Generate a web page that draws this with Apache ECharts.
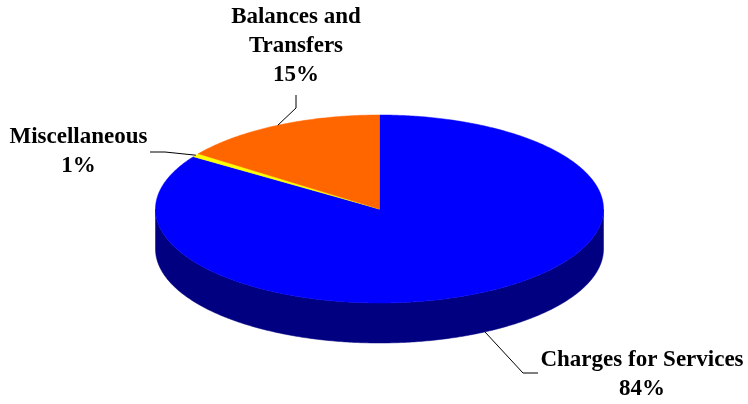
<!DOCTYPE html>
<html><head><meta charset="utf-8">
<script src="https://cdn.jsdelivr.net/npm/echarts@6/dist/echarts.min.js"></script>
<style>html,body{margin:0;padding:0;background:#fff}#c{width:748px;height:404px}</style>
</head><body><div id="c"></div>
<script>
const categories = ['Charges for Services', 'Miscellaneous', 'Balances and Transfers'];
const labelNames = ['Charges for Services', 'Miscellaneous', 'Balances and\nTransfers'];
const values = [84.4, 0.6, 15.0];

const colors = ['#0000FF', '#FFFF00', '#FF6600'];
const sideColors = ['#000080', '#808000', '#803300'];
const geo = { cx: 379.5, cy: 209, rx: 224, ry: 94, depth: 40 };
const labelLayout = [
  { x: 642, y: 374.5, elbow: [523, 373], end: [538, 373] },
  { x: 78.5, y: 151.5, elbow: [165, 152], end: [150, 152] },
  { x: 296, y: 46.5, elbow: [296, 108], end: [296, 95] }
];

const total = values.reduce((a, b) => a + b, 0);
function sliceAngles(i) {
  let s = 0;
  for (let k = 0; k < i; k++) s += values[k];
  return [s / total * 2 * Math.PI, (s + values[i]) / total * 2 * Math.PI];
}
function pt(a, dy) {
  return [geo.cx + geo.rx * Math.sin(a), geo.cy - geo.ry * Math.cos(a) + dy];
}
function arc(a1, a2, dy) {
  const n = Math.max(2, Math.ceil((a2 - a1) / 0.01));
  const out = [];
  for (let j = 0; j <= n; j++) out.push(pt(a1 + (a2 - a1) * j / n, dy));
  return out;
}

const data = values.map((v, i) => ({ value: v, name: categories[i] }));

function renderSide(params, api) {
  const i = params.dataIndex;
  const [a1, a2] = sliceAngles(i);
  const lo = Math.max(a1, Math.PI / 2), hi = Math.min(a2, 3 * Math.PI / 2);
  if (lo >= hi) return null;
  const pts = arc(lo, hi, 0).concat(arc(lo, hi, geo.depth).reverse());
  return { type: 'polygon', shape: { points: pts },
    style: { fill: sideColors[i], stroke: sideColors[i], lineWidth: 0.5 } };
}
function renderTop(params, api) {
  const i = params.dataIndex;
  const [a1, a2] = sliceAngles(i);
  const pts = [[geo.cx, geo.cy]].concat(arc(a1, a2, 0));
  return { type: 'polygon', shape: { points: pts },
    style: { fill: colors[i], stroke: colors[i], lineWidth: 0.5 } };
}
function renderLabel(params, api) {
  const i = params.dataIndex;
  const v = api.value(0);
  const [a1, a2] = sliceAngles(i);
  const mid = (a1 + a2) / 2;
  const front = Math.cos(mid) < 0 && Math.abs(Math.cos(mid)) > 0.5;
  const anchor = pt(mid, front ? geo.depth : 0);
  const L = labelLayout[i];
  return { type: 'group', children: [
    { type: 'polyline', shape: { points: [anchor, L.elbow, L.end] },
      style: { stroke: '#000', lineWidth: 1, fill: null } },
    { type: 'text', x: L.x, y: L.y,
      style: { text: labelNames[i] + '\n' + Math.round(v) + '%',
        fontFamily: '"Liberation Serif", "Times New Roman", serif', fontWeight: 'bold',
        fontSize: 23, lineHeight: 29, align: 'center', verticalAlign: 'middle', fill: '#000' } }
  ] };
}

const chart = echarts.init(document.getElementById('c'), null, { renderer: 'canvas' });
chart.setOption({
  animation: false,
  backgroundColor: '#fff',
  series: [
    { type: 'custom', coordinateSystem: 'none', silent: true, data: data, renderItem: renderSide, z: 1 },
    { type: 'custom', coordinateSystem: 'none', silent: true, data: data, renderItem: renderTop, z: 2 },
    { type: 'custom', coordinateSystem: 'none', silent: true, data: data, renderItem: renderLabel, z: 3 }
  ]
});
</script></body></html>
